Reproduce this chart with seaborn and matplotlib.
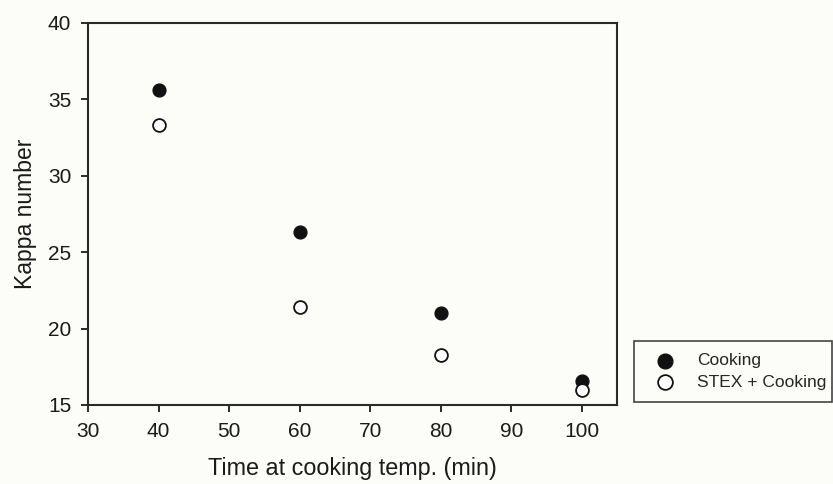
import matplotlib
matplotlib.use("Agg")
import matplotlib.pyplot as plt
import seaborn as sns
import pandas as pd

time_min = [40, 60, 80, 100]
kappa_cooking = [35.6, 26.3, 21.0, 16.6]
kappa_stex = [33.3, 21.4, 18.3, 15.95]
series_names = ["Cooking", "STEX + Cooking"]
x_ticks = [30, 40, 50, 60, 70, 80, 90, 100]
y_ticks = [15, 20, 25, 30, 35, 40]

sns.set_theme(style="ticks")
plt.rcParams['font.family'] = ['Liberation Sans', 'DejaVu Sans']

bg = '#fcfcf8'
fig = plt.figure(figsize=(8.33, 4.84), dpi=100, facecolor=bg)
ax = fig.add_axes([88/833, 1-405/484, (617-88)/833, (405-23)/484])
ax.set_facecolor(bg)

df = pd.DataFrame({
    "time": time_min * 2,
    "kappa": kappa_cooking + kappa_stex,
    "series": [series_names[0]] * 4 + [series_names[1]] * 4,
})

sns.scatterplot(data=df[df.series == series_names[0]], x="time", y="kappa",
                ax=ax, color='#111111', edgecolor='#111111', s=85, linewidth=1.0,
                label=series_names[0], zorder=3)
sns.scatterplot(data=df[df.series == series_names[1]], x="time", y="kappa",
                ax=ax, color='white', edgecolor='#111111', s=85, linewidth=1.3,
                label=series_names[1], zorder=4)

ax.set_xlim(30, 105)
ax.set_ylim(15, 40)
ax.set_xticks(x_ticks)
ax.set_yticks(y_ticks)
ax.set_xlabel("Time at cooking temp. (min)", fontsize=16.8, color='#1a1a1a', labelpad=12)
ax.set_ylabel("Kappa number", fontsize=16.5, color='#1a1a1a', labelpad=8)
ax.tick_params(axis='both', labelsize=15, colors='#1a1a1a', length=5, width=1.3, direction='out', pad=7)
for sp in ax.spines.values():
    sp.set_visible(True)
    sp.set_linewidth(1.5)
    sp.set_color('#2a2a2a')

handles, labels = ax.get_legend_handles_labels()
if ax.legend_:
    ax.legend_.remove()
leg = fig.legend(handles, labels, loc='upper left',
                 bbox_to_anchor=(634/833, 1-341/484, (832-634)/833, 0.0),
                 mode='expand', fontsize=12.5, frameon=True, fancybox=False,
                 edgecolor='#444444', facecolor=bg, framealpha=1, markerscale=1.15,
                 borderpad=0.7, labelspacing=0.35, handletextpad=0.75, handlelength=2.2,
                 borderaxespad=0)
leg.get_frame().set_linewidth(1.2)

fig.savefig("out.png", dpi=100, facecolor=bg)
